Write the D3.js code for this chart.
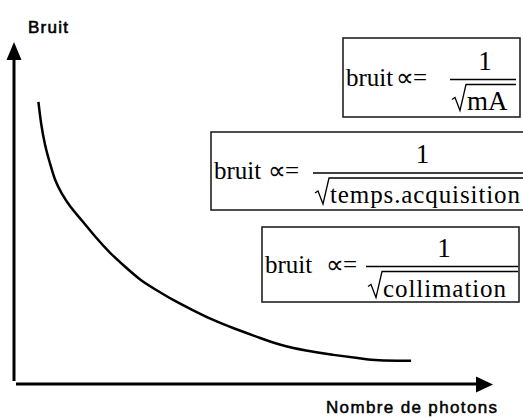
<!DOCTYPE html>
<html>
<head>
<meta charset="utf-8">
<script src="https://cdn.jsdelivr.net/npm/d3@7"></script>
<style>
  body { margin: 0; background: #fff; }
  text { white-space: pre; }
</style>
</head>
<body>
<div id="chart"></div>
<script>
// CHART DEFAULTS
const WIDTH = 523;
const HEIGHT = 418;

// DATA (arbitrary units 0-100 on both axes)
const photons = [5.1, 5.6, 6.5, 7.5, 8.5, 9.9, 11.7, 14.1, 16.9, 20.0, 23.5, 26.3,
  29.7, 33.1, 37.3, 41.5, 45.6, 51.3, 55.4, 61.0, 66.5, 72.1, 75.6, 82.9];
const bruit = [82.5, 76.3, 69.4, 64.6, 59.6, 55.8, 51.8, 48.0, 43.1, 38.3, 33.9, 30.4,
  27.5, 24.6, 21.6, 18.7, 16.4, 13.5, 11.4, 9.7, 8.5, 7.6, 6.8, 6.8];
const axisLabels = ['Bruit', 'Nombre de photons'];
const formulaWords = ['bruit', 'bruit', 'bruit'];
const formulaSigns = ['\u221D=', '\u221D=', '\u221D='];
const numerators = ['1', '1', '1'];
const denominators = ['mA', 'temps.acquisition', 'collimation'];

// box layout (pixels)
const boxes = [
  { x: 343, y: 38, w: 177, h: 79, signX: 396, barX: 450, barW: 66, denW: null, denSize: 27 },
  { x: 211, y: 132, w: 330, h: 78, signX: 268, barX: 313, barW: 215, denW: 190, denSize: 25 },
  { x: 262, y: 227, w: 257, h: 75, signX: 326, barX: 366, barW: 152, denW: 123, denSize: 25 }
];

const svg = d3.select('#chart')
  .append('svg')
  .attr('width', WIDTH)
  .attr('height', HEIGHT);

const xScale = d3.scaleLinear().domain([0, 100]).range([14, 493]);
const yScale = d3.scaleLinear().domain([0, 100]).range([384, 42]);

// axes with arrow heads
const x0 = xScale(0), y0 = yScale(0);
const yTop = yScale(100), xEnd = xScale(100);

svg.append('line')
  .attr('x1', x0).attr('x2', x0)
  .attr('y1', y0 - 3).attr('y2', yTop + 16)
  .attr('stroke', '#000').attr('stroke-width', 3);
svg.append('path')
  .attr('d', `M${x0},${yTop} L${x0 - 7.5},${yTop + 18} L${x0 + 7.5},${yTop + 18} Z`)
  .attr('fill', '#000');

svg.append('line')
  .attr('x1', x0 + 2).attr('x2', xEnd - 15)
  .attr('y1', y0).attr('y2', y0)
  .attr('stroke', '#000').attr('stroke-width', 3);
svg.append('path')
  .attr('d', `M${xEnd},${y0 + 0.5} L${xEnd - 17},${y0 - 7.5} L${xEnd - 17},${y0 + 8.5} Z`)
  .attr('fill', '#000');

// axis labels
const sans = 'Liberation Sans, Arial, sans-serif';
svg.append('text')
  .attr('x', 28).attr('y', 33)
  .attr('font-family', sans)
  .attr('font-size', 17)
  .attr('stroke', '#000').attr('stroke-width', 0.6)
  .attr('textLength', 40).attr('lengthAdjust', 'spacing')
  .text(axisLabels[0]);

svg.append('text')
  .attr('x', 326).attr('y', 413)
  .attr('font-family', sans)
  .attr('font-size', 17)
  .attr('stroke', '#000').attr('stroke-width', 0.5)
  .attr('textLength', 171).attr('lengthAdjust', 'spacing')
  .text(axisLabels[1]);

// noise curve
const line = d3.line()
  .x((d, i) => xScale(photons[i]))
  .y(d => yScale(d))
  .curve(d3.curveBasis);

svg.append('path')
  .datum(bruit)
  .attr('d', line)
  .attr('fill', 'none')
  .attr('stroke', '#000')
  .attr('stroke-width', 2.5);

// formula boxes
const serif = 'Liberation Serif, Times New Roman, serif';
boxes.forEach((b, i) => {
  const g = svg.append('g');
  const barY = b.y + b.h / 2 + 2;

  g.append('rect')
    .attr('x', b.x).attr('y', b.y)
    .attr('width', b.w).attr('height', b.h)
    .attr('fill', '#fff')
    .attr('stroke', '#222').attr('stroke-width', 1.6);

  g.append('text')
    .attr('x', b.x + 3).attr('y', barY + 6)
    .attr('font-family', serif).attr('font-size', 25)
    .text(formulaWords[i]);

  // "∝=" drawn as one text so the two signs touch like in the picture
  g.append('text')
    .attr('x', b.signX).attr('y', barY + 6)
    .attr('font-family', serif).attr('font-size', 25)
    .attr('letter-spacing', -1)
    .text(formulaSigns[i]);

  // fraction bar
  g.append('line')
    .attr('x1', b.barX).attr('x2', b.barX + b.barW)
    .attr('y1', barY).attr('y2', barY)
    .attr('stroke', '#000').attr('stroke-width', 1.5);

  g.append('text')
    .attr('x', b.barX + b.barW / 2 + 2).attr('y', barY - 10)
    .attr('text-anchor', 'middle')
    .attr('font-family', serif).attr('font-size', 27)
    .text(numerators[i]);

  // radical sign
  const rx = b.barX + 2, base = barY + 30, top = barY + 5;
  g.append('path')
    .attr('d', `M${rx},${base - 10} L${rx + 3},${base - 12} L${rx + 8},${base + 1} L${rx + 14},${top} L${b.barX + b.barW},${top}`)
    .attr('fill', 'none')
    .attr('stroke', '#000').attr('stroke-width', 1.3);

  const den = g.append('text')
    .attr('x', rx + 15).attr('y', base)
    .attr('font-family', serif).attr('font-size', b.denSize)
    .text(denominators[i]);
  if (b.denW) den.attr('textLength', b.denW).attr('lengthAdjust', 'spacing');
});
</script>
</body>
</html>
